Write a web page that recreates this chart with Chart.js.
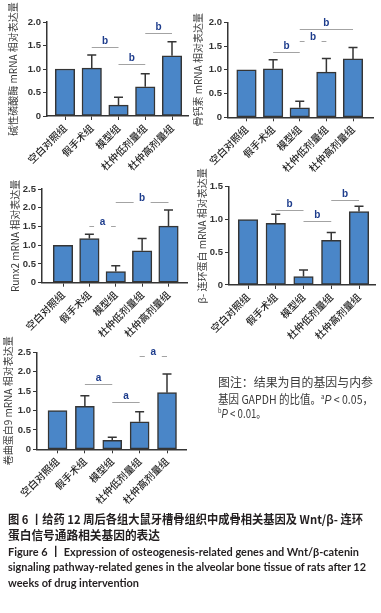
<!DOCTYPE html>
<html><head><meta charset="utf-8">
<script src="https://cdn.jsdelivr.net/npm/chart.js@4.4.1/dist/chart.umd.min.js"></script>
<style>
html,body{margin:0;padding:0;background:#fff;}
body{width:381px;height:613px;position:relative;overflow:hidden;}
canvas{position:absolute;left:0;top:0;}
.t{position:absolute;white-space:nowrap;font-family:'Noto Sans CJK SC',sans-serif;transform-origin:0 50%;}
.nt{font-size:12px;line-height:15.5px;color:#3a3a3a;}
.nt i{font-family:'Liberation Sans',sans-serif;font-style:italic;}
.nt sup{font-size:7px;vertical-align:5px;line-height:0;}
.cn{font-size:12px;font-weight:bold;color:#231f20;line-height:16px;}
.en{font-size:12px;font-weight:bold;color:#231f20;line-height:16px;font-family:Lato,'Noto Sans CJK SC',sans-serif;}
</style></head><body>
<canvas id="c1" width="381" height="613"></canvas>
<canvas id="c2" width="381" height="613"></canvas>
<canvas id="c3" width="381" height="613"></canvas>
<canvas id="c4" width="381" height="613"></canvas>
<canvas id="c5" width="381" height="613"></canvas>
<div class="t nt" data-w="155" style="left:218px;top:374px;">图注：结果为目的基因与内参</div>
<div class="t nt" data-w="155" style="left:218px;top:391px;">基因 GAPDH 的比值。<sup>a</sup><i>P</i> &lt; 0.05，</div>
<div class="t nt" data-w="48" style="left:218px;top:405px;"><sup>b</sup><i>P</i> &lt; 0.01。</div>
<div class="t cn" data-w="355" style="left:8px;top:511px;">图 6 丨给药 12 周后各组大鼠牙槽骨组织中成骨相关基因及 Wnt/β- 连环</div>
<div class="t cn" data-w="152" style="left:8px;top:527px;">蛋白信号通路相关基因的表达</div>
<div class="t en" data-w="351" style="left:8px;top:544px;">Figure 6 丨 Expression of osteogenesis-related genes and Wnt/β-catenin</div>
<div class="t en" data-w="358" style="left:8px;top:559px;">signaling pathway-related genes in the alveolar bone tissue of rats after 12</div>
<div class="t en" data-w="131" style="left:8px;top:575px;">weeks of drug intervention</div>
<script>
// ---------- data ----------
const groups = ['空白对照组', '假手术组', '模型组', '杜仲低剂量组', '杜仲高剂量组'];

const alpMean = [1.00, 1.02, 0.23, 0.62, 1.28];
const alpErr  = [0, 0.28, 0.17, 0.28, 0.30];
const alpTicks = [0, 0.5, 1.0, 1.5, 2.0];
const alpSig = [[1, 2, 1.46, 'b'], [2, 3, 1.10, 'b'], [3, 4, 1.76, 'b']];

const ocnMean = [1.00, 1.02, 0.20, 0.95, 1.23];
const ocnErr  = [0, 0.19, 0.14, 0.29, 0.24];
const ocnTicks = [0, 0.5, 1.0, 1.5, 2.0];
const ocnSig = [[1, 2, 1.38, 'b'], [2, 3, 1.61, 'b'], [2, 4, 1.85, 'b']];

const runxMean = [1.00, 1.18, 0.30, 0.85, 1.51];
const runxErr  = [0, 0.11, 0.15, 0.33, 0.43];
const runxTicks = [0, 0.5, 1.0, 1.5, 2.0, 2.5];
const runxSig = [[1, 2, 1.51, 'a'], [2, 4, 2.14, 'b']];

const ctnnbMean = [1.00, 0.94, 0.13, 0.68, 1.12];
const ctnnbErr  = [0, 0.14, 0.10, 0.12, 0.08];
const ctnnbTicks = [0, 0.5, 1.0, 1.5];
const ctnnbSig = [[1, 2, 1.15, 'b'], [2, 3, 0.97, 'b'], [3, 4, 1.29, 'b']];

const fzdMean = [1.00, 1.11, 0.23, 0.71, 1.46];
const fzdErr  = [0, 0.27, 0.08, 0.26, 0.48];
const fzdTicks = [0, 0.5, 1.0, 1.5, 2.0, 2.5];
const fzdSig = [[1, 2, 1.68, 'a'], [2, 3, 1.23, 'a'], [3, 4, 2.40, 'a']];

// ---------- layout / style ----------
const panels = [
  {id:'c1', title:'碱性磷酸酶 mRNA 相对表达量', mean:alpMean, err:alpErr, ticks:alpTicks, sig:alpSig,
   gap:[false,false,false], L:47, R:188, c0:65, c4:172, top:22, bot:116, tx:13, bw:19.5},
  {id:'c2', title:'骨钙素 mRNA 相对表达量', mean:ocnMean, err:ocnErr, ticks:ocnTicks, sig:ocnSig,
   gap:[false,true,false], L:228, R:373, c0:246.5, c4:353, top:22.3, bot:117.3, tx:198, bw:19.5},
  {id:'c3', title:'Runx2 mRNA 相对表达量', mean:runxMean, err:runxErr, ticks:runxTicks, sig:runxSig,
   gap:[true,true], L:42, R:187, c0:63, c4:168.5, top:189, bot:282.7, tx:15, bw:19.5},
  {id:'c4', title:'β- 连环蛋白 mRNA 相对表达量', mean:ctnnbMean, err:ctnnbErr, ticks:ctnnbTicks, sig:ctnnbSig,
   gap:[false,false,false], L:229, R:375, c0:248, c4:359, top:186.7, bot:285, tx:202, bw:19.5},
  {id:'c5', title:'卷曲蛋白9 mRNA 相对表达量', mean:fzdMean, err:fzdErr, ticks:fzdTicks, sig:fzdSig,
   gap:[false,false,true], L:37, R:186, c0:57.5, c4:167, top:352.3, bot:449.3, tx:8, bw:19}
];

const XH = 60;
const AX = '#353535';

const annot = {
  id: 'annot',
  afterDatasetsDraw(chart, args, opts) {
    const p = opts.panel;
    const {ctx} = chart;
    const x = chart.scales.x, y = chart.scales.y;
    ctx.save();
    ctx.strokeStyle = AX; ctx.lineWidth = 1.5;
    p.mean.forEach((m, i) => {
      const e = p.err[i];
      if (!e) return;
      const px = x.getPixelForValue(i);
      const y0 = y.getPixelForValue(m), y1 = y.getPixelForValue(m + e);
      ctx.beginPath();
      ctx.moveTo(px, y0); ctx.lineTo(px, y1);
      ctx.moveTo(px - 4.5, y1); ctx.lineTo(px + 4.5, y1);
      ctx.stroke();
    });
    p.sig.forEach((s, k) => {
      const [a, b, v, l] = s;
      const xa = x.getPixelForValue(a), xb = x.getPixelForValue(b);
      const yy = Math.round(y.getPixelForValue(v)) + 0.5;
      const mid = (xa + xb) / 2;
      const g = p.gap[k];
      ctx.strokeStyle = '#a3a3a3'; ctx.lineWidth = 1;
      ctx.beginPath();
      if (g) { ctx.moveTo(xa, yy); ctx.lineTo(mid - 8.5, yy); ctx.moveTo(mid + 8.5, yy); ctx.lineTo(xb, yy); }
      else { ctx.moveTo(xa, yy); ctx.lineTo(xb, yy); }
      ctx.stroke();
      ctx.fillStyle = '#1d3c8c';
      ctx.font = 'bold 10px "Liberation Sans", sans-serif';
      ctx.textAlign = 'center'; ctx.textBaseline = 'middle';
      ctx.fillText(l, mid, yy - (g ? 4.5 : 6.5));
    });
    ctx.restore();
  }
};

panels.forEach(p => {
  const sp = (p.c4 - p.c0) / 4;
  const xmin = -(p.c0 - p.L) / sp;
  const xmax = 4 + (p.R - p.c4) / sp;
  const sLeft = p.tx - 6;
  const ymax = p.ticks[p.ticks.length - 1];
  new Chart(document.getElementById(p.id), {
    type: 'bar',
    data: {
      datasets: [{
        data: p.mean.map((v, i) => ({x: i, y: v})),
        backgroundColor: '#4a86c8',
        borderColor: AX,
        borderWidth: 1.5,
        borderSkipped: false,
        barThickness: p.bw
      }]
    },
    options: {
      responsive: false,
      animation: false,
      events: [],
      layout: {padding: {left: sLeft, top: p.top, right: 381 - p.R, bottom: 613 - p.bot - XH}},
      plugins: {legend: {display: false}, tooltip: {enabled: false}, annot: {panel: p}},
      scales: {
        x: {
          type: 'linear', min: xmin, max: xmax, offset: false,
          afterBuildTicks: s => { s.ticks = groups.map((g, i) => ({value: i})); },
          afterFit: s => { s.height = XH; },
          grid: {display: true, drawOnChartArea: false, drawTicks: true, tickLength: 4, color: AX, lineWidth: 1, offset: false},
          border: {display: true, color: AX, width: 1.5},
          ticks: {
            autoSkip: false, maxRotation: 45, minRotation: 45, padding: 2,
            callback: v => groups[v],
            color: '#262626',
            font: {family: "'Noto Sans CJK SC', sans-serif", size: 10, weight: 500}
          }
        },
        y: {
          min: 0, max: ymax,
          afterBuildTicks: s => { s.ticks = p.ticks.map(v => ({value: v})); },
          afterFit: s => { s.width = p.L - sLeft; },
          grid: {display: true, drawOnChartArea: false, drawTicks: true, tickLength: 4, color: AX, lineWidth: 1},
          border: {display: true, color: AX, width: 1.5},
          ticks: {
            padding: 2,
            callback: v => (v === 0 ? '0' : v.toFixed(1)),
            color: '#333',
            font: {family: "'Liberation Sans', sans-serif", size: 9.5, weight: 'bold'}
          },
          title: {
            display: true, text: p.title, padding: 0,
            color: '#3a3a3a',
            font: {family: "'Noto Sans CJK SC', sans-serif", size: 10, lineHeight: 1.2}
          }
        }
      }
    },
    plugins: [annot]
  });
});

// fit text lines to their measured widths
document.querySelectorAll('[data-w]').forEach(el => {
  const w = el.getBoundingClientRect().width;
  const target = parseFloat(el.dataset.w);
  el.style.transform = 'scaleX(' + (target / w) + ')';
});
</script>
</body></html>
